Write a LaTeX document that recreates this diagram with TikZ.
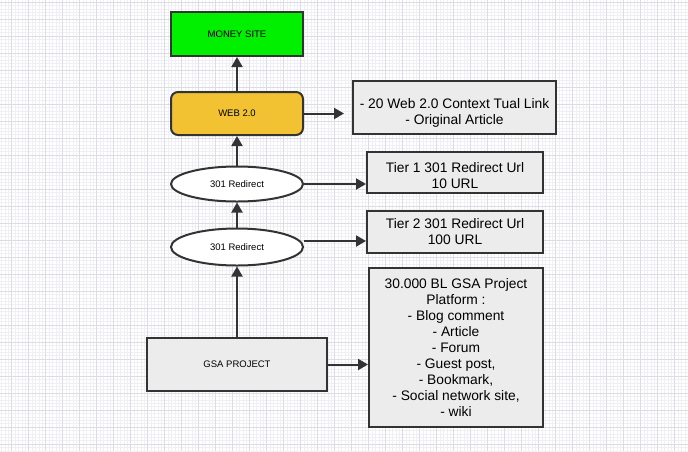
\documentclass[tikz,border=0pt]{standalone}
\usepackage{fontspec}
\setmainfont{Liberation Sans}
\usetikzlibrary{arrows.meta,shapes.geometric}
\definecolor{edge}{HTML}{333333}
\definecolor{boxfill}{HTML}{ECECEC}
\definecolor{money}{HTML}{00F000}
\definecolor{webfill}{HTML}{F2C232}
\definecolor{gridmaj}{HTML}{DCDCE4}
\definecolor{gridmin}{HTML}{F0F0F4}
\tikzset{
  base/.style={draw=edge, line width=2pt, inner sep=2pt, align=center, font=\fontsize{13.8}{16}\selectfont},
  infobox/.style={base, fill=boxfill},
  boxtext/.style={align=center, font=\fontsize{13.8}{16}\selectfont, inner sep=0pt},
  smallbox/.style={base, font=\fontsize{9.5}{11}\selectfont},
  link/.style={draw=edge, line width=2pt, -{Triangle[length=10pt,width=11pt]}},
}
\begin{document}
\begin{tikzpicture}[x=1pt,y=-1pt]
\fill[white] (0,0) rectangle (688,451);
\useasboundingbox (0,0) rectangle (688,451);
\foreach \i in {0,...,202} {
  \draw[gridmin, line width=0.5pt] (\i*3.4-1.9,0) -- (\i*3.4-1.9,451);
}
\foreach \i in {0,...,133} {
  \draw[gridmin, line width=0.5pt] (0,\i*3.4+2) -- (688,\i*3.4+2);
}
\foreach \i in {0,...,41} {
  \draw[gridmaj, line width=0.7pt] (\i*17-5.3,0) -- (\i*17-5.3,451);
}
\foreach \i in {0,...,27} {
  \draw[gridmaj, line width=0.7pt] (0,\i*17+2) -- (688,\i*17+2);
}

\node[smallbox, fill=money, minimum width=132pt, minimum height=44pt] (money) at (237,34) {MONEY SITE};
\node[smallbox, fill=webfill, rounded corners=7pt, minimum width=132pt, minimum height=43pt] (web) at (237,113.5) {WEB 2.0};
\node[infobox, minimum width=203pt, minimum height=53pt,
  label={[boxtext, yshift=-5.5pt]center:{- 20 Web 2.0 Context Tual Link\\- Original Article}}] (info1) at (454.5,107.5) {};
\node[smallbox, ellipse, fill=white, inner sep=0pt, minimum width=132pt, minimum height=35pt] (r1) at (237,184) {301 Redirect};
\node[infobox, minimum width=176pt, minimum height=41pt,
  label={[boxtext, yshift=-3pt]center:{Tier 1 301 Redirect Url\\10 URL}}] (tier1) at (455,172.5) {};
\node[smallbox, ellipse, fill=white, inner sep=0pt, minimum width=132pt, minimum height=37pt] (r2) at (237,247) {301 Redirect};
\node[infobox, minimum width=176pt, minimum height=42pt] (tier2) at (455,232) {Tier 2 301 Redirect Url\\100 URL};
\node[smallbox, fill=boxfill, minimum width=180pt, minimum height=53pt] (gsa) at (237,364.5) {GSA PROJECT};
\node[infobox, minimum width=174pt, minimum height=159pt] (gsainfo) at (456,347.5) {30.000 BL GSA Project\\Platform :\\- Blog comment\\- Article\\- Forum\\- Guest post,\\- Bookmark,\\- Social network site,\\- wiki};

\draw[link] (web) -- (money);
\draw[link] (web.east) -- ([xshift=-8pt]info1.west |- web.east);
\draw[link] (r1) -- (web);
\draw[link] (r1.east) -- (tier1.west |- r1.east);
\draw[link] (r2) -- (r1);
\draw[link] ([yshift=6pt]r2.east) -- (tier2.west |- 0,241);
\draw[link] (gsa) -- (r2);
\draw[link] (gsa.east) -- (gsainfo.west |- gsa.east);
\end{tikzpicture}
\end{document}
